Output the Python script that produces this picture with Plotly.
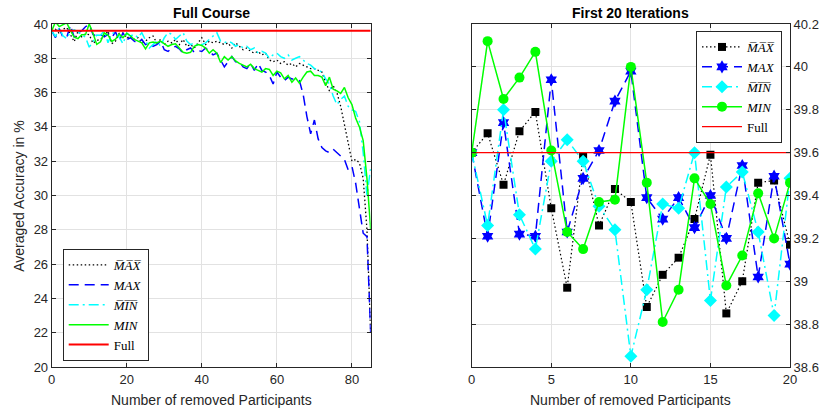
import plotly.graph_objects as go

# ---------------- data ----------------
full_accuracy = 39.6

participants_full = list(range(0, 86))
participants_first = list(range(0, 21))

max_bar = [39.6, 39.69, 39.45, 39.70, 39.79, 39.34, 38.97, 39.58, 39.26, 39.43, 39.37,
           38.88, 39.03, 39.11, 39.29, 39.59, 38.85, 39.00, 39.46, 39.47, 39.17,
           39.3, 39.1, 39.2, 38.9, 39.0, 39.2, 39.3, 38.9, 39.1, 38.8,
           39.0, 38.9, 39.1, 38.8, 39.1, 38.7, 38.8, 38.6, 38.9, 39.2,
           38.8, 39.0, 38.9, 39.0, 38.9, 38.8, 38.9, 38.6, 38.9, 38.7,
           38.5, 38.6, 38.4, 38.3, 38.4, 38.2, 38.3, 37.9, 37.8, 37.9,
           37.7, 37.8, 37.6, 37.7, 37.5, 37.7, 37.6, 37.5, 37.4, 37.4,
           37.3, 37.2, 36.6, 36.1, 36.4, 36.0, 35.2, 34.2, 33.2, 32.0,
           32.1, 31.9, 31.0, 28.0, 22.0]

max_vals = [39.6, 39.21, 39.74, 39.22, 39.21, 39.94, 39.23, 39.48, 39.61, 39.84, 39.98,
            39.39, 39.29, 39.39, 39.25, 39.40, 39.20, 39.54, 39.02, 39.49, 39.08,
            39.2, 39.0, 38.9, 39.1, 38.8, 38.9, 38.7, 38.8, 39.0, 38.5,
            38.4, 38.6, 38.7, 38.55, 38.3, 38.5, 38.6, 38.35, 38.45, 38.4,
            38.6, 38.4, 38.2, 38.3, 37.9, 37.5, 37.8, 38.1, 37.8, 37.8,
            37.5, 37.4, 37.7, 37.3, 37.7, 37.3, 37.2, 37.0, 36.5, 37.2,
            36.9, 36.7, 36.9, 36.8, 36.8, 36.7, 35.9, 34.6, 33.6, 34.4,
            33.3, 32.8, 32.6, 32.5, 32.7, 32.5, 32.3, 32.1, 31.5, 31.7,
            30.7, 29.3, 27.8, 27.6, 22.0]

min_bar = [39.6, 39.26, 39.80, 39.31, 39.15, 39.56, 39.66, 39.56, 39.35, 39.24, 38.65,
           38.96, 39.36, 39.34, 39.6, 38.91, 39.44, 39.51, 39.23, 38.84, 39.48,
           39.3, 39.4, 39.2, 39.5, 39.0, 38.6, 38.8, 39.0, 38.7, 39.2,
           39.5, 39.4, 39.1, 39.3, 39.5, 39.0, 38.8, 38.9, 38.7, 38.8,
           38.9, 39.1, 39.3, 39.5, 39.0, 38.9, 39.0, 38.9, 38.7, 38.8,
           38.6, 38.7, 38.5, 38.6, 38.3, 38.4, 38.3, 38.0, 38.2, 38.3,
           38.1, 38.0, 38.2, 37.9, 38.0, 38.1, 37.9, 37.7, 37.6, 37.4,
           37.3, 37.2, 36.8, 36.5, 35.8, 35.3, 35.6, 35.8, 35.2, 35.0,
           34.9, 34.3, 32.5, 30.0, 31.6]

min_vals = [39.6, 40.12, 39.85, 39.95, 40.07, 39.61, 39.23, 39.15, 39.37, 39.38, 40.00,
            39.46, 38.81, 38.96, 39.48, 39.36, 38.98, 39.12, 39.41, 39.20, 39.46,
            39.3, 39.1, 39.0, 38.9, 38.55, 38.9, 38.95, 38.9, 39.0, 38.85,
            38.7, 38.8, 38.85, 38.6, 38.35, 38.3, 38.35, 38.7, 38.8, 38.75,
            38.6, 38.3, 38.5, 38.3, 37.75, 38.1, 37.9, 38.1, 37.85, 37.7,
            37.6, 37.5, 37.65, 37.4, 37.3, 37.2, 37.4, 37.35, 37.0, 37.25,
            37.15, 36.8, 37.0, 36.6, 36.85, 36.55, 36.9, 37.2, 37.25, 37.0,
            37.0, 36.9, 36.4, 36.9, 36.2, 36.1, 35.95, 36.3, 35.7, 35.3,
            34.5, 34.0, 33.2, 31.0, 28.0]

series_names = ["<i>M\u0305A\u0305X\u0305</i>", "<i>MAX</i>",
                "<i>M\u0305I\u0305N\u0305</i>", "<i>MIN</i>", "Full"]

# ---------------- styles ----------------
BLACK = "#000000"
BLUE = "#0000ff"
CYAN = "#00ffff"
GREEN = "#00ff00"
RED = "#ff0000"
DOT = "1.5px,2.5px"
DASH = "10px,6px"
DASHDOT = "10px,4px,2px,4px"

fig = go.Figure()

n_first = len(participants_first)

# left: full course
left_specs = [
    (max_bar, BLACK, DOT, 1.3),
    (max_vals, BLUE, DASH, 1.5),
    (min_bar, CYAN, DASHDOT, 1.5),
    (min_vals, GREEN, "solid", 1.5),
]
for (vals, col, dash, lw), name in zip(left_specs, series_names):
    fig.add_trace(go.Scatter(x=participants_full, y=vals, mode="lines", name=name,
                             line=dict(color=col, dash=dash, width=lw),
                             xaxis="x", yaxis="y", legend="legend", cliponaxis=True))
fig.add_trace(go.Scatter(x=[participants_full[0], participants_full[-1]],
                         y=[full_accuracy, full_accuracy], mode="lines", name=series_names[4],
                         line=dict(color=RED, width=2), xaxis="x", yaxis="y", legend="legend"))

# right: first 20 iterations
right_specs = [
    (max_bar, BLACK, DOT, 1.2, "square", 8),
    (max_vals, BLUE, DASH, 1.5, "hexagram", 10),
    (min_bar, CYAN, DASHDOT, 1.5, "diamond", 10),
    (min_vals, GREEN, "solid", 1.5, "circle", 10),
]
for (vals, col, dash, lw, sym, ms), name in zip(right_specs, series_names):
    fig.add_trace(go.Scatter(x=participants_first, y=vals[:n_first], mode="lines+markers", name=name,
                             line=dict(color=col, dash=dash, width=lw),
                             marker=dict(symbol=sym, size=ms, color=col, line=dict(width=0)),
                             xaxis="x2", yaxis="y2", legend="legend2"))
fig.add_trace(go.Scatter(x=[participants_first[0], participants_first[-1]],
                         y=[full_accuracy, full_accuracy], mode="lines", name=series_names[4],
                         line=dict(color=RED, width=1.2), xaxis="x2", yaxis="y2", legend="legend2"))

W, H = 821, 410
lx0, lx1 = 51.7 / W, 370.7 / W
rx0, rx1 = 471.7 / W, 790.0 / W
ytop, ybot = 1 - 24.0 / H, 1 - 367.0 / H

TICKFONT = dict(family="Liberation Sans, Arial, sans-serif", size=13, color="#262626")
axis_common = dict(showline=True, linecolor="#262626", linewidth=1, mirror="ticks",
                   ticks="inside", ticklen=4, tickcolor="#262626", tickwidth=1,
                   showgrid=True, gridcolor="#e2e2e2", gridwidth=1, zeroline=False,
                   tickfont=TICKFONT, automargin=False)

LEGFONT = dict(family="Liberation Serif, DejaVu Serif, serif", size=13, color="#000000")

fig.update_layout(
    width=W, height=H,
    margin=dict(l=0, r=0, t=0, b=0),
    paper_bgcolor="white", plot_bgcolor="white",
    xaxis=dict(domain=[lx0, lx1], range=[0, 85], tickvals=[0, 20, 40, 60, 80],
               anchor="y", **axis_common),
    yaxis=dict(domain=[ybot, ytop], range=[20, 40], dtick=2, anchor="x", **axis_common),
    xaxis2=dict(domain=[rx0, rx1], range=[0, 20], dtick=5, anchor="y2", **axis_common),
    yaxis2=dict(domain=[ybot, ytop], range=[38.6, 40.2], dtick=0.2, anchor="x2", side="right",
                tickformat="~g", **axis_common),
    legend=dict(x=62.7 / W, y=1 - 361.0 / H, xanchor="left", yanchor="bottom",
                bgcolor="white", bordercolor="#262626", borderwidth=1,
                font=LEGFONT, itemwidth=40, tracegroupgap=0),
    legend2=dict(x=696.0 / W, y=1 - 31.0 / H, xanchor="left", yanchor="top",
                 bgcolor="white", bordercolor="#262626", borderwidth=1,
                 font=LEGFONT, itemwidth=40, tracegroupgap=0),
    showlegend=True,
    annotations=[
        dict(text="<b>Full Course</b>", x=(lx0 + lx1) / 2, y=1 - 12.5 / H, xref="paper", yref="paper",
             showarrow=False, xanchor="center", yanchor="middle",
             font=dict(family="Liberation Sans, Arial, sans-serif", size=14, color="#000000")),
        dict(text="<b>First 20 Iterations</b>", x=(rx0 + rx1) / 2, y=1 - 12.5 / H, xref="paper", yref="paper",
             showarrow=False, xanchor="center", yanchor="middle",
             font=dict(family="Liberation Sans, Arial, sans-serif", size=14, color="#000000")),
        dict(text="Number of removed Participants", x=(lx0 + lx1) / 2, y=1 - 400.0 / H,
             xref="paper", yref="paper", showarrow=False, xanchor="center", yanchor="middle",
             font=dict(family="Liberation Sans, Arial, sans-serif", size=14, color="#262626")),
        dict(text="Number of removed Participants", x=(rx0 + rx1) / 2, y=1 - 400.0 / H,
             xref="paper", yref="paper", showarrow=False, xanchor="center", yanchor="middle",
             font=dict(family="Liberation Sans, Arial, sans-serif", size=14, color="#262626")),
        dict(text="Averaged Accuracy in %", x=18.3 / W, y=(ybot + ytop) / 2, textangle=-90,
             xref="paper", yref="paper", showarrow=False, xanchor="center", yanchor="middle",
             font=dict(family="Liberation Sans, Arial, sans-serif", size=14, color="#262626")),
    ],
)

fig.write_html("out.html", config={"displayModeBar": False},
               post_script="document.body.style.margin='0px';document.body.style.overflow='hidden';")
